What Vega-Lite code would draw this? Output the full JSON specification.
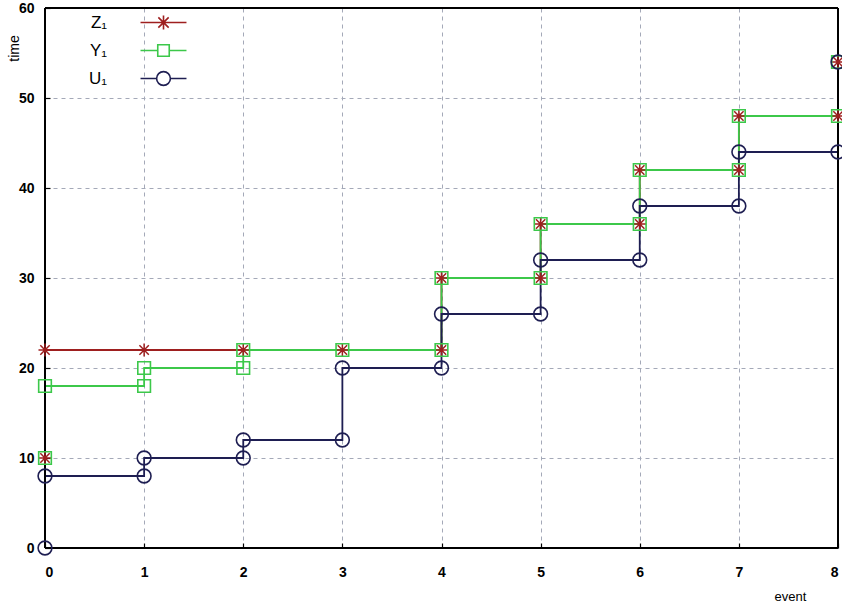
{
  "$schema": "https://vega.github.io/schema/vega-lite/v6.json",
  "width": 793,
  "height": 540,
  "autosize": "none",
  "padding": {"left": 45, "top": 8, "right": 4, "bottom": 59},
  "background": "white",
  "config": {
    "view": {"stroke": null},
    "font": "Liberation Sans",
    "axis": {
      "labelFont": "Liberation Sans",
      "labelFontWeight": "bold",
      "labelFontSize": 14,
      "labelColor": "black",
      "domain": false,
      "tickColor": "black",
      "tickWidth": 1.2,
      "gridColor": "#a4a9b8",
      "gridDash": [4, 4],
      "gridWidth": 1,
      "titleFont": "Liberation Sans",
      "titleFontWeight": "normal",
      "titleFontSize": 13,
      "titleColor": "black"
    }
  },
  "data": {
    "values": [
      {"series": "Z₁", "i": 0, "event": 0, "time": 10},
      {"series": "Z₁", "i": 1, "event": 0, "time": 22},
      {"series": "Z₁", "i": 2, "event": 1, "time": 22},
      {"series": "Z₁", "i": 3, "event": 2, "time": 22},
      {"series": "Z₁", "i": 4, "event": 3, "time": 22},
      {"series": "Z₁", "i": 5, "event": 4, "time": 22},
      {"series": "Z₁", "i": 6, "event": 4, "time": 30},
      {"series": "Z₁", "i": 7, "event": 5, "time": 30},
      {"series": "Z₁", "i": 8, "event": 5, "time": 36},
      {"series": "Z₁", "i": 9, "event": 6, "time": 36},
      {"series": "Z₁", "i": 10, "event": 6, "time": 42},
      {"series": "Z₁", "i": 11, "event": 7, "time": 42},
      {"series": "Z₁", "i": 12, "event": 7, "time": 48},
      {"series": "Z₁", "i": 13, "event": 8, "time": 48},
      {"series": "Z₁", "i": 14, "event": 8, "time": 54},
      {"series": "Y₁", "i": 0, "event": 0, "time": 10},
      {"series": "Y₁", "i": 1, "event": 0, "time": 18},
      {"series": "Y₁", "i": 2, "event": 1, "time": 18},
      {"series": "Y₁", "i": 3, "event": 1, "time": 20},
      {"series": "Y₁", "i": 4, "event": 2, "time": 20},
      {"series": "Y₁", "i": 5, "event": 2, "time": 22},
      {"series": "Y₁", "i": 6, "event": 3, "time": 22},
      {"series": "Y₁", "i": 7, "event": 4, "time": 22},
      {"series": "Y₁", "i": 8, "event": 4, "time": 30},
      {"series": "Y₁", "i": 9, "event": 5, "time": 30},
      {"series": "Y₁", "i": 10, "event": 5, "time": 36},
      {"series": "Y₁", "i": 11, "event": 6, "time": 36},
      {"series": "Y₁", "i": 12, "event": 6, "time": 42},
      {"series": "Y₁", "i": 13, "event": 7, "time": 42},
      {"series": "Y₁", "i": 14, "event": 7, "time": 48},
      {"series": "Y₁", "i": 15, "event": 8, "time": 48},
      {"series": "Y₁", "i": 16, "event": 8, "time": 54},
      {"series": "U₁", "i": 0, "event": 0, "time": 0},
      {"series": "U₁", "i": 1, "event": 0, "time": 8},
      {"series": "U₁", "i": 2, "event": 1, "time": 8},
      {"series": "U₁", "i": 3, "event": 1, "time": 10},
      {"series": "U₁", "i": 4, "event": 2, "time": 10},
      {"series": "U₁", "i": 5, "event": 2, "time": 12},
      {"series": "U₁", "i": 6, "event": 3, "time": 12},
      {"series": "U₁", "i": 7, "event": 3, "time": 20},
      {"series": "U₁", "i": 8, "event": 4, "time": 20},
      {"series": "U₁", "i": 9, "event": 4, "time": 26},
      {"series": "U₁", "i": 10, "event": 5, "time": 26},
      {"series": "U₁", "i": 11, "event": 5, "time": 32},
      {"series": "U₁", "i": 12, "event": 6, "time": 32},
      {"series": "U₁", "i": 13, "event": 6, "time": 38},
      {"series": "U₁", "i": 14, "event": 7, "time": 38},
      {"series": "U₁", "i": 15, "event": 7, "time": 44},
      {"series": "U₁", "i": 16, "event": 8, "time": 44},
      {"series": "U₁", "i": 17, "event": 8, "time": 54}
    ]
  },
  "layer": [
    {
      "mark": {"type": "line", "strokeWidth": 1.8, "clip": false},
      "encoding": {
        "x": {
          "field": "event", "type": "quantitative",
          "scale": {"domain": [0, 8], "nice": false, "zero": false},
          "axis": {"values": [0,1,2,3,4,5,6,7,8], "format": "d", "grid": true, "tickSize": -5, "labelPadding": 22, "title": "event", "titleX": 745, "titleY": 48, "titleAlign": "center", "titleBaseline": "middle"}
        },
        "y": {
          "field": "time", "type": "quantitative",
          "scale": {"domain": [0, 60], "nice": false},
          "axis": {"values": [0,10,20,30,40,50,60], "format": "d", "grid": true, "tickSize": -5, "labelPadding": 16, "title": "time", "titleAngle": -90, "titleX": -31, "titleY": 40, "titleAlign": "center", "titleBaseline": "middle", "titleFontSize": 14}
        },
        "color": {
          "field": "series", "type": "nominal",
          "scale": {"domain": ["Z₁", "Y₁", "U₁"], "range": ["#9e1f1f", "#3cc84a", "#1e1e52"]},
          "legend": {
            "orient": "none", "legendX": 110, "legendY": 6,
            "title": null,
            "labelFont": "Liberation Sans", "labelFontSize": 17, "labelColor": "black",
            "labelAlign": "right", "labelOffset": -65,
            "symbolSize": 132, "symbolStrokeWidth": 1.6, "symbolFillColor": "transparent", "symbolOpacity": 1,
            "rowPadding": 8,
            "encode": {
              "symbols": {
                "update": {
                  "shape": {"signal": "datum.value == 'Z₁' ? 'M-4,0L4,0M0,-1.2L0,1.2M-0.9,-0.9L0.9,0.9M-0.9,0.9L0.9,-0.9' : datum.value == 'Y₁' ? 'M-4,0L-1,0M1,0L4,0M-1,-1L1,-1L1,1L-1,1Z' : 'M-4,0L-1.2,0M1.2,0L4,0M1.2,0A1.2,1.2,0,1,1,-1.2,0A1.2,1.2,0,1,1,1.2,0'"},
                  "fill": {"value": "transparent"},
                  "strokeWidth": {"value": 1.6},
                  "opacity": {"value": 1}
                }
              }
            }
          }
        },
        "order": {"field": "i", "type": "quantitative"}
      }
    },
    {"mark": {"type": "rule", "color": "black", "strokeWidth": 1.6}, "encoding": {"x": {"datum": 0}}},
    {"mark": {"type": "rule", "color": "black", "strokeWidth": 1.6}, "encoding": {"x": {"datum": 8}}},
    {"mark": {"type": "rule", "color": "black", "strokeWidth": 1.6}, "encoding": {"y": {"datum": 0}}},
    {"mark": {"type": "rule", "color": "black", "strokeWidth": 1.6}, "encoding": {"y": {"datum": 60}}},
    {
      "transform": [{"filter": "datum.series == 'Z₁'"}],
      "mark": {"type": "point", "filled": false, "opacity": 1, "strokeWidth": 1.5, "size": 170, "clip": false, "shape": "M-1,0L1,0M0,-1L0,1M-0.72,-0.72L0.72,0.72M-0.72,0.72L0.72,-0.72"},
      "encoding": {
        "x": {"field": "event", "type": "quantitative"},
        "y": {"field": "time", "type": "quantitative"},
        "color": {"field": "series", "type": "nominal"}
      }
    },
    {
      "transform": [{"filter": "datum.series == 'Y₁'"}],
      "mark": {"type": "point", "filled": false, "opacity": 1, "strokeWidth": 1.6, "size": 160, "clip": false, "shape": "square"},
      "encoding": {
        "x": {"field": "event", "type": "quantitative"},
        "y": {"field": "time", "type": "quantitative"},
        "color": {"field": "series", "type": "nominal"}
      }
    },
    {
      "transform": [{"filter": "datum.series == 'U₁'"}],
      "mark": {"type": "point", "filled": false, "opacity": 1, "strokeWidth": 1.6, "size": 190, "clip": false, "shape": "circle"},
      "encoding": {
        "x": {"field": "event", "type": "quantitative"},
        "y": {"field": "time", "type": "quantitative"},
        "color": {"field": "series", "type": "nominal"}
      }
    }
  ]
}
